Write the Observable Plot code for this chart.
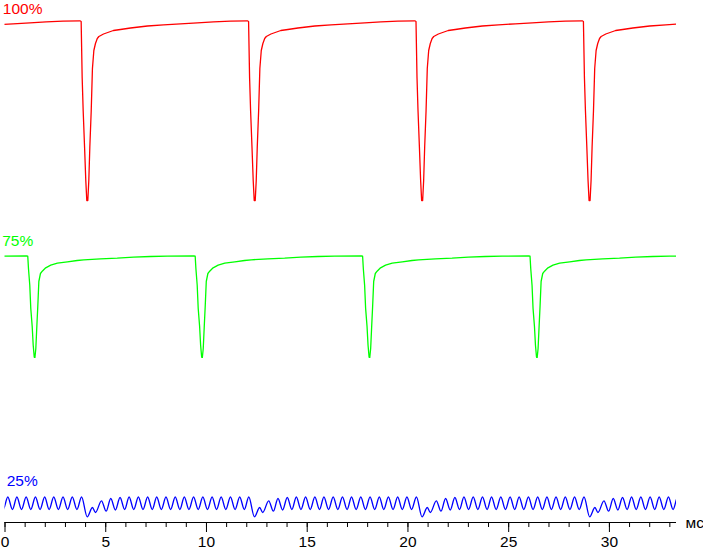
<!DOCTYPE html>
<html>
<head>
<meta charset="utf-8">
<script src="https://cdn.jsdelivr.net/npm/d3@7"></script>
<script src="https://cdn.jsdelivr.net/npm/@observablehq/plot@0.6"></script>
<style>
  body { margin: 0; background: #fff; }
  #chart svg { display: block; }
</style>
</head>
<body>
<div id="chart"></div>
<script>
// ---- x axis (time, ms) ----
const xDomain = [0, 33.33];
const majorTicks = [0, 5, 10, 15, 20, 25, 30];
const minorTicks = [0,1,2,3,4,5,6,7,8,9,10,11,12,13,14,15,16,17,18,19,20,21,22,23,24,25,26,27,28,29,30,31,32,33];
const unitLabel = "мс";
const seriesLabels = ["100%", "75%", "25%"];
const seriesColors = ["#ff0000", "#00ff00", "#0000ff"];

// ---- 100% trace: one refresh-cycle pulse [ms after drop start, brightness] ----
const redPulse = [
  [0.00, 179.0], [0.05, 123], [0.10, 90], [0.17, 53], [0.23, 20], [0.28, 0],
  [0.33, 0], [0.38, 20], [0.43, 53], [0.50, 90], [0.56, 132], [0.63, 150],
  [0.71, 157], [0.80, 162], [0.88, 164], [1.11, 166.5], [1.46, 169], [1.60, 170],
  [1.95, 171], [2.45, 172.5], [3.29, 174.5], [4.09, 175.7], [4.93, 176.7],
  [5.77, 177.7], [6.57, 178.7], [7.41, 179.3], [8.25, 179.7]
];
const redDropTimes = [-4.53, 3.78, 12.09, 20.40, 28.71];

// ---- 75% trace ----
const greenPulse = [
  [0.00, 102.3], [0.035, 90], [0.10, 73.3], [0.15, 50], [0.22, 32], [0.27, 13.3],
  [0.32, 1.7], [0.35, 0], [0.40, 10], [0.45, 32], [0.50, 53.3], [0.55, 77],
  [0.63, 85], [0.72, 87.3], [0.89, 90.7], [1.14, 93.3], [1.47, 95.3], [1.97, 96.7],
  [2.45, 98], [2.78, 98.7], [3.61, 99.7], [4.44, 100.3], [5.25, 101.3],
  [6.09, 102], [6.92, 102.3], [8.24, 102.7]
];
const greenDropTimes = [-7.18, 1.13, 9.44, 17.75, 26.06];

// ---- 25% trace: ripple around each refresh dip [ms from dip, brightness] ----
const bluePulse = [
  [-0.28, 25.5], [0.00, 5.7], [0.26, 15], [0.41, 10], [0.71, 21.7], [0.94, 11.3],
  [1.17, 24], [1.40, 12.5], [1.63, 25], [1.86, 13], [2.08, 25.5], [2.31, 13],
  [2.54, 25.5], [2.77, 13], [3.00, 25.5], [3.23, 13], [3.45, 25.5], [3.68, 13],
  [3.91, 25.5], [4.14, 13], [4.37, 25.5], [4.60, 13], [4.82, 25.5], [5.05, 13],
  [5.28, 25.5], [5.51, 13], [5.74, 25.5], [5.97, 13], [6.20, 25.5], [6.42, 13],
  [6.65, 25.5], [6.88, 13], [7.11, 25.5], [7.34, 13], [7.57, 25.5], [7.80, 13]
];
const blueDipTimes = [-4.23, 4.08, 12.38, 20.70, 29.02];

function buildTrace(pulse, starts) {
  return starts.flatMap(s => pulse.map(([dt, v]) => ({t: s + dt, v})));
}
const redData = buildTrace(redPulse, redDropTimes);
const greenData = buildTrace(greenPulse, greenDropTimes);
const blueData = buildTrace(bluePulse, blueDipTimes);

const font = "'Liberation Sans', Arial, sans-serif";
const common = {
  width: 703,
  marginLeft: 4.5,
  marginRight: 27,
  x: {domain: xDomain, axis: null, label: null},
  style: {fontFamily: font, fontSize: "15.5px", color: "#000", background: "#fff", overflow: "visible"}
};

function label(text, color, dx, dy) {
  return Plot.text([text], {
    text: d => d, frameAnchor: "top-left", textAnchor: "start", lineAnchor: "bottom",
    dx, dy, fill: color, fontSize: 15.5
  });
}

const redPlot = Plot.plot({
  ...common,
  height: 230, marginTop: 18, marginBottom: 28,
  y: {domain: [-2, 182], axis: null},
  marks: [
    Plot.line(redData, {x: "t", y: "v", stroke: seriesColors[0], strokeWidth: 1.3, clip: true}),
    label(seriesLabels[0], seriesColors[0], -2.2, -5)
  ]
});

const greenPlot = Plot.plot({
  ...common,
  height: 240, marginTop: 24, marginBottom: 112,
  y: {domain: [0, 104], axis: null},
  marks: [
    Plot.line(greenData, {x: "t", y: "v", stroke: seriesColors[1], strokeWidth: 1.3, clip: true}),
    label(seriesLabels[1], seriesColors[1], -2.8, -8.3)
  ]
});

const bluePlot = Plot.plot({
  ...common,
  height: 80, marginTop: 20, marginBottom: 28,
  y: {domain: [0, 32], axis: null},
  marks: [
    Plot.line(blueData, {x: "t", y: "v", stroke: seriesColors[2], strokeWidth: 1.3, curve: "monotone-x", clip: true}),
    label(seriesLabels[2], seriesColors[2], 1.7, -5),
    Plot.ruleY([0], {stroke: "#000", strokeWidth: 1}),
    Plot.axisX({ticks: minorTicks, tickSize: 5, tickFormat: () => "", label: null, stroke: "#000"}),
    Plot.axisX({ticks: majorTicks, tickSize: 10, tickPadding: 3, label: null, fontSize: 15.5, fill: "#000", stroke: "#000"}),
    Plot.text([unitLabel], {text: d => d, frameAnchor: "bottom-right", textAnchor: "start", lineAnchor: "bottom", dx: 9, dy: 5.3, fill: "#000", fontSize: 15.5})
  ]
});

const chart = document.getElementById("chart");
chart.append(redPlot, greenPlot, bluePlot);
</script>
</body>
</html>
